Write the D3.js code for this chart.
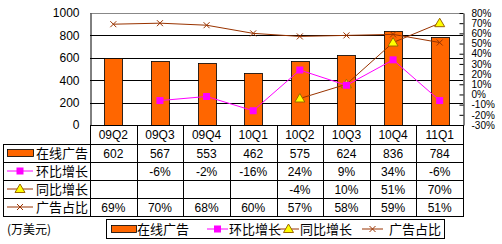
<!DOCTYPE html>
<html>
<head>
<meta charset="utf-8">
<script src="https://cdn.jsdelivr.net/npm/d3@7"></script>
<style>
  body { margin: 0; background: #fff; }
  text { font-family: "Liberation Sans", Arial, sans-serif; font-size: 11px; fill: #000; }
  .cjk { font-family: "Noto Sans CJK SC", sans-serif; font-size: 12px; }
</style>
</head>
<body>
<div id="chart"></div>
<script>
// data
var quarters = ["09Q2", "09Q3", "09Q4", "10Q1", "10Q2", "10Q3", "10Q4", "11Q1"];
var adRevenue = [602, 567, 553, 462, 575, 624, 836, 784];
var qoqGrowth = [null, -6, -2, -16, 24, 9, 34, -6];
var yoyGrowth = [null, null, null, null, -4, 10, 51, 70];
var adShare = [69, 70, 68, 60, 57, 58, 59, 51];
var leftTicks = [0, 200, 400, 600, 800, 1000];
var rightTicks = [-30, -20, -10, 0, 10, 20, 30, 40, 50, 60, 70, 80];
var seriesNames = ["在线广告", "环比增长", "同比增长", "广告占比"];
var unitLabel = "(万美元)";

var w = 502, h = 244;
var plotL = 90, plotR = 463, plotT = 13, plotB = 125;
var tableLeft = 3;
var rowY = [144, 162, 180, 198, 216];

var svg = d3.select("#chart").append("svg")
  .attr("width", w)
  .attr("height", h);

var x = d3.scaleBand().domain(quarters).range([plotL, plotR]);
var yL = d3.scaleLinear().domain([0, 1000]).range([plotB, plotT]);
var yR = d3.scaleLinear().domain([-30, 80]).range([plotB, plotT]);
var cx = function(i) { return x(quarters[i]) + x.bandwidth() / 2; };

var brown = "#993300", magenta = "#FF00FF", orange = "#FF6600";

// plot border + grid
svg.append("line")
  .attr("x1", plotL).attr("x2", plotR)
  .attr("y1", Math.round(yL(1000)) + 0.5).attr("y2", Math.round(yL(1000)) + 0.5)
  .attr("stroke", "#888");
svg.selectAll("line.grid")
  .data([200, 400, 600, 800])
  .enter().append("line")
  .attr("class", "grid")
  .attr("x1", plotL).attr("x2", plotR)
  .attr("y1", function(d) { return Math.round(yL(d)) + 0.5; })
  .attr("y2", function(d) { return Math.round(yL(d)) + 0.5; })
  .attr("stroke", "#000");

// left axis
var gL = svg.append("g").attr("transform", "translate(" + (plotL + 0.5) + ",0)")
  .call(d3.axisLeft(yL).tickValues(leftTicks).tickFormat(d3.format("d")).tickSize(0).tickPadding(11));
gL.select(".domain").attr("stroke", "#000");
gL.selectAll("text").style("font-size", "12px");

// right axis
var gR = svg.append("g").attr("transform", "translate(" + (plotR + 0.5) + ",0)")
  .call(d3.axisRight(yR).tickValues(rightTicks).tickFormat(function(d) { return d + "%"; })
    .tickSizeInner(-4).tickSizeOuter(0).tickPadding(8));
gR.select(".domain").attr("stroke", "#000");
gR.selectAll(".tick line").attr("stroke", "#000");
gR.selectAll("text").style("font-size", "10px");

// bars
var bw = 18;
svg.selectAll("rect.bar")
  .data(adRevenue)
  .enter().append("rect")
  .attr("class", "bar")
  .attr("x", function(d, i) { return Math.round(cx(i) - bw / 2) + 0.5; })
  .attr("y", function(d) { return Math.round(yL(d)) + 0.5; })
  .attr("width", bw)
  .attr("height", function(d) { return Math.round(yL(0)) - Math.round(yL(d)); })
  .attr("fill", orange)
  .attr("stroke", "#000")
  .attr("stroke-width", 0.8);

// bottom axis line
svg.append("line")
  .attr("x1", plotL).attr("x2", plotR)
  .attr("y1", plotB + 0.5).attr("y2", plotB + 0.5)
  .attr("stroke", "#000");

// lines
function drawLine(vals, color, yScale) {
  var line = d3.line()
    .defined(function(d) { return d != null; })
    .x(function(d, i) { return cx(i); })
    .y(function(d) { return yScale(d); });
  svg.append("path")
    .datum(vals)
    .attr("d", line)
    .attr("fill", "none")
    .attr("stroke", color)
    .attr("stroke-width", 1);
}

drawLine(adShare, brown, yR);
drawLine(yoyGrowth, brown, yR);
drawLine(qoqGrowth, magenta, yR);

function crossMarker(g, px, py) {
  g.append("path")
    .attr("d", "M" + (px - 3) + "," + (py - 3) + "L" + (px + 3) + "," + (py + 3) +
      "M" + (px - 3) + "," + (py + 3) + "L" + (px + 3) + "," + (py - 3))
    .attr("stroke", brown).attr("stroke-width", 1).attr("fill", "none");
}
function squareMarker(g, px, py) {
  g.append("rect")
    .attr("x", px - 3.5).attr("y", py - 3.5)
    .attr("width", 7).attr("height", 7)
    .attr("fill", magenta);
}
function triMarker(g, px, py) {
  g.append("path")
    .attr("d", "M" + px + "," + (py - 5) + "L" + (px + 5) + "," + (py + 3.5) + "L" + (px - 5) + "," + (py + 3.5) + "Z")
    .attr("fill", "#FFFF00").attr("stroke", "#996600").attr("stroke-width", 1);
}

var marks = svg.append("g");
adShare.forEach(function(d, i) { if (d != null) crossMarker(marks, cx(i), yR(d)); });
yoyGrowth.forEach(function(d, i) { if (d != null) triMarker(marks, cx(i), yR(d)); });
qoqGrowth.forEach(function(d, i) { if (d != null) squareMarker(marks, cx(i), yR(d)); });

// data table
var table = svg.append("g");
var bounds = quarters.map(function(q) { return Math.round(x(q)); }).concat([plotR]);
// vertical lines
bounds.forEach(function(bx) {
  table.append("line")
    .attr("x1", bx + 0.5).attr("x2", bx + 0.5)
    .attr("y1", plotB).attr("y2", rowY[4] + 0.5)
    .attr("stroke", "#000");
});
table.append("line")
  .attr("x1", tableLeft + 0.5).attr("x2", tableLeft + 0.5)
  .attr("y1", rowY[0]).attr("y2", rowY[4] + 0.5)
  .attr("stroke", "#000");
rowY.forEach(function(ry) {
  table.append("line")
    .attr("x1", tableLeft).attr("x2", plotR + 1)
    .attr("y1", ry + 0.5).attr("y2", ry + 0.5)
    .attr("stroke", "#000");
});

// category labels
table.selectAll("text.cat")
  .data(quarters)
  .enter().append("text")
  .attr("class", "cat")
  .attr("x", function(d, i) { return cx(i); })
  .attr("y", (plotB + rowY[0]) / 2 + 4.5)
  .attr("text-anchor", "middle")
  .style("font-size", "12px")
  .text(function(d) { return d; });

var pct = function(d) { return d == null ? "" : d + "%"; };
var rows = [
  adRevenue.map(function(d) { return String(d); }),
  qoqGrowth.map(pct),
  yoyGrowth.map(pct),
  adShare.map(pct)
];
rows.forEach(function(vals, r) {
  var midY = (rowY[r] + rowY[r + 1]) / 2;
  table.selectAll("text.r" + r)
    .data(vals)
    .enter().append("text")
    .attr("class", "r" + r)
    .attr("x", function(d, i) { return cx(i); })
    .attr("y", midY + 4.5)
    .attr("text-anchor", "middle")
    .style("font-size", "12px")
    .text(function(d) { return d; });

  // row header
  var sx = 7, sw = 26;
  if (r === 0) {
    table.append("rect")
      .attr("x", sx + 0.5).attr("y", midY - 3.5)
      .attr("width", sw).attr("height", 7)
      .attr("fill", orange).attr("stroke", "#000").attr("stroke-width", 0.8);
  } else {
    var col = r === 1 ? magenta : brown;
    table.append("line")
      .attr("x1", sx).attr("x2", sx + sw)
      .attr("y1", midY).attr("y2", midY)
      .attr("stroke", col);
    if (r === 1) squareMarker(table, sx + sw / 2, midY);
    if (r === 2) triMarker(table, sx + sw / 2, midY);
    if (r === 3) crossMarker(table, sx + sw / 2, midY);
  }
  table.append("text")
    .attr("class", "cjk")
    .attr("x", 36)
    .attr("y", midY + 5)
    .style("font-size", "13px")
    .text(seriesNames[r]);
});

// unit label
svg.append("text")
  .attr("class", "cjk")
  .attr("x", 7)
  .attr("y", 234)
  .style("font-size", "12px")
  .text(unitLabel);

// legend
var lg = svg.append("g");
lg.append("rect")
  .attr("x", 106.5).attr("y", 219.5)
  .attr("width", 338).attr("height", 19)
  .attr("fill", "#fff").attr("stroke", "#000");
var ly = 229;
var legendItems = [
  { sx: 111, tx: 137, kind: "bar" },
  { sx: 207, tx: 229, kind: "sq" },
  { sx: 278, tx: 300, kind: "tri" },
  { sx: 362, tx: 389, kind: "x" }
];
legendItems.forEach(function(it, i) {
  if (it.kind === "bar") {
    lg.append("rect")
      .attr("x", it.sx + 0.5).attr("y", ly - 3.5)
      .attr("width", 25).attr("height", 7)
      .attr("fill", orange).attr("stroke", "#000").attr("stroke-width", 0.8);
  } else {
    var col = it.kind === "sq" ? magenta : brown;
    lg.append("line")
      .attr("x1", it.sx).attr("x2", it.sx + 21)
      .attr("y1", ly).attr("y2", ly)
      .attr("stroke", col);
    if (it.kind === "sq") squareMarker(lg, it.sx + 10.5, ly);
    if (it.kind === "tri") triMarker(lg, it.sx + 10.5, ly);
    if (it.kind === "x") crossMarker(lg, it.sx + 10.5, ly);
  }
  lg.append("text")
    .attr("class", "cjk")
    .attr("x", it.tx)
    .attr("y", ly + 5)
    .style("font-size", "13px")
    .text(seriesNames[i]);
});
</script>
</body>
</html>
